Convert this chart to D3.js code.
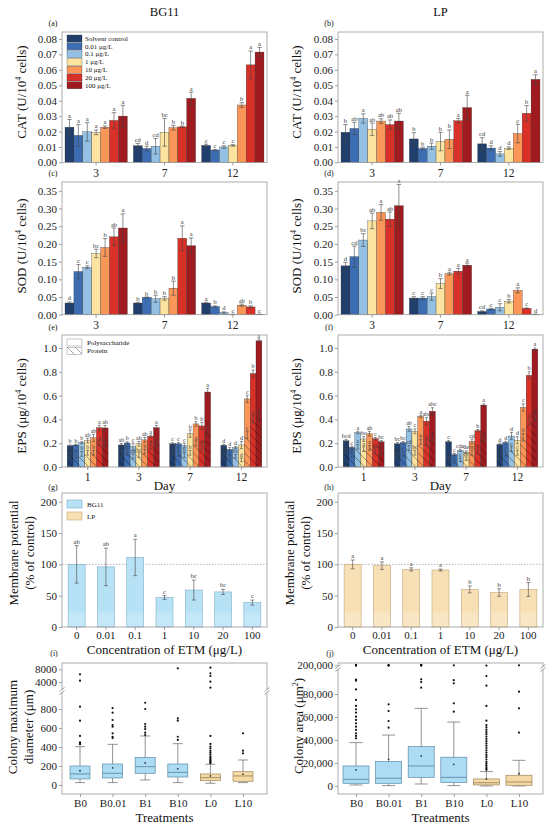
<!DOCTYPE html>
<html>
<head>
<meta charset="utf-8">
<script src="https://cdn.jsdelivr.net/npm/d3@7"></script>
<style>
  body { margin: 0; background: #fff; }
  svg { display: block; }
</style>
</head>
<body>
<div id="chart"></div>
<script>
const W = 550, H = 828;
const FONT = '"Liberation Serif", "Times New Roman", serif';

// ---- data ----
const concNames = ["Solvent control", "0.01 μg/L", "0.1 μg/L", "1 μg/L", "10 μg/L", "20 μg/L", "100 μg/L"];
const concColors = ["#213f6c", "#3c6db3", "#93c0e3", "#fce4a0", "#f99658", "#d93128", "#a01b1f"];
const daysAD = ["3", "7", "12"];
const daysEF = ["1", "3", "7", "12"];
const concTicks = ["0", "0.01", "0.1", "1", "10", "20", "100"];
const treatments = ["B0", "B0.01", "B1", "B10", "L0", "L10"];

const catBG11 = [
  [0.0228, 0.0175, 0.0198, 0.0195, 0.0228, 0.0272, 0.0300],
  [0.0108, 0.0090, 0.0105, 0.0195, 0.0225, 0.0230, 0.0415],
  [0.0110, 0.0080, 0.0100, 0.0110, 0.0372, 0.0632, 0.0715]];
const catBG11Err = [
  [0.005, 0.007, 0.006, 0.0015, 0.0008, 0.005, 0.007],
  [0.0015, 0.0015, 0.005, 0.009, 0.0015, 0.0005, 0.004],
  [0.0008, 0.0003, 0.0008, 0.0005, 0.0015, 0.009, 0.003]];
const catBG11Sig = [["a", "a", "a", "a", "a", "a", "a"], ["cd", "d", "cd", "bc", "b", "b", "a"], ["c", "c", "c", "c", "b", "a", "a"]];

const catLP = [
  [0.0195, 0.0220, 0.0285, 0.0215, 0.0268, 0.0245, 0.0268],
  [0.0152, 0.0090, 0.0105, 0.0135, 0.0150, 0.0270, 0.0355],
  [0.0120, 0.0093, 0.0055, 0.0092, 0.0187, 0.0318, 0.0538]];
const catLPErr = [
  [0.005, 0.004, 0.003, 0.004, 0.0015, 0.003, 0.005],
  [0.004, 0.0008, 0.002, 0.006, 0.006, 0.0015, 0.008],
  [0.004, 0.0015, 0.0015, 0.0008, 0.006, 0.005, 0.003]];
const catLPSig = [["b", "ab", "a", "ab", "ab", "ab", "ab"], ["b", "b", "b", "b", "b", "a", "a"], ["cd", "d", "d", "d", "c", "b", "a"]];

const sodBG11 = [
  [0.033, 0.122, 0.134, 0.173, 0.190, 0.220, 0.245],
  [0.033, 0.049, 0.045, 0.046, 0.075, 0.216, 0.195],
  [0.033, 0.023, 0.006, 0.001, 0.027, 0.022, 0.001]];
const sodBG11Err = [
  [0.003, 0.02, 0.004, 0.012, 0.025, 0.025, 0.04],
  [0.002, 0.001, 0.01, 0.005, 0.02, 0.035, 0.022],
  [0.002, 0.002, 0.002, 0.0005, 0.003, 0.003, 0.0005]];
const sodBG11Sig = [["d", "c", "c", "bc", "b", "ab", "a"], ["b", "b", "b", "b", "b", "a", "a"], ["a", "b", "d", "c", "ab", "b", "c"]];

const sodLP = [
  [0.138, 0.164, 0.211, 0.265, 0.289, 0.270, 0.308],
  [0.047, 0.047, 0.051, 0.088, 0.116, 0.123, 0.140],
  [0.009, 0.016, 0.021, 0.038, 0.069, 0.018, 0.001]];
const sodLPErr = [
  [0.01, 0.03, 0.018, 0.022, 0.022, 0.02, 0.06],
  [0.004, 0.004, 0.01, 0.014, 0.004, 0.008, 0.006],
  [0.002, 0.002, 0.01, 0.005, 0.007, 0.001, 0.0005]];
const sodLPSig = [["d", "cd", "bc", "ab", "a", "ab", "a"], ["c", "c", "c", "b", "a", "a", "a"], ["cd", "c", "c", "b", "a", "c", "d"]];

const epsBG11 = [
  [0.178, 0.185, 0.205, 0.222, 0.245, 0.330, 0.328],
  [0.185, 0.202, 0.170, 0.195, 0.228, 0.258, 0.330],
  [0.195, 0.195, 0.180, 0.280, 0.362, 0.345, 0.630],
  [0.182, 0.148, 0.163, 0.185, 0.572, 0.785, 1.060]];
const epsBG11Err = [
  [0.008, 0.006, 0.008, 0.02, 0.03, 0.02, 0.02],
  [0.012, 0.01, 0.03, 0.02, 0.02, 0.01, 0.02],
  [0.008, 0.01, 0.02, 0.03, 0.02, 0.03, 0.03],
  [0.008, 0.015, 0.01, 0.03, 0.03, 0.03, 0.015]];
const epsBG11Sig = [["b", "b", "b", "ab", "ab", "a", "ab"], ["ab", "b", "c", "ab", "ab", "a", "a"], ["c", "c", "c", "b", "b", "b", "a"], ["d", "d", "d", "d", "c", "b", "a"]];
const protBG11 = [
  [0.10, 0.09, 0.11, 0.12, 0.12, 0.20, 0.19],
  [0.11, 0.12, 0.09, 0.10, 0.13, 0.17, 0.19],
  [0.12, 0.11, 0.10, 0.12, 0.20, 0.16, 0.31],
  [0.10, 0.07, 0.09, 0.06, 0.27, 0.40, 0.42]];
const protBG11Err = [
  [0.02, 0.015, 0.02, 0.02, 0.02, 0.02, 0.02],
  [0.02, 0.02, 0.02, 0.02, 0.02, 0.02, 0.02],
  [0.02, 0.02, 0.02, 0.02, 0.02, 0.02, 0.03],
  [0.015, 0.015, 0.015, 0.015, 0.03, 0.03, 0.03]];
const protBG11Sig = [["ab", "b", "b", "b", "b", "a", "a"], ["b", "bc", "cd", "bc", "b", "a", "a"], ["b", "b", "b", "b", "a", "ab", "a"], ["cd", "d", "bc", "d", "c", "b", "a"]];

const epsLP = [
  [0.220, 0.165, 0.290, 0.235, 0.280, 0.238, 0.212],
  [0.195, 0.205, 0.320, 0.300, 0.425, 0.385, 0.468],
  [0.212, 0.105, 0.140, 0.125, 0.215, 0.305, 0.520],
  [0.190, 0.205, 0.260, 0.225, 0.500, 0.770, 0.990]];
const epsLPErr = [
  [0.01, 0.01, 0.01, 0.02, 0.02, 0.01, 0.01],
  [0.01, 0.01, 0.02, 0.02, 0.01, 0.03, 0.03],
  [0.01, 0.01, 0.01, 0.01, 0.02, 0.01, 0.01],
  [0.01, 0.01, 0.03, 0.03, 0.03, 0.03, 0.01]];
const epsLPSig = [["bcd", "c", "a", "bc", "ab", "c", "bc"], ["bc", "bc", "ab", "c", "a", "abc", "abc"], ["c", "c", "cde", "de", "cd", "b", "a"], ["d", "d", "d", "d", "c", "b", "a"]];
const protLP = [
  [0.14, 0.10, 0.17, 0.15, 0.16, 0.13, 0.12],
  [0.10, 0.11, 0.16, 0.12, 0.21, 0.20, 0.24],
  [0.07, 0.05, 0.06, 0.07, 0.12, 0.13, 0.24],
  [0.10, 0.11, 0.15, 0.12, 0.25, 0.38, 0.42]];
const protLPErr = [
  [0.02, 0.02, 0.02, 0.02, 0.02, 0.02, 0.02],
  [0.02, 0.02, 0.02, 0.02, 0.02, 0.02, 0.02],
  [0.015, 0.015, 0.015, 0.015, 0.02, 0.02, 0.02],
  [0.02, 0.02, 0.02, 0.02, 0.03, 0.03, 0.03]];
const protLPSig = [["a", "b", "a", "a", "a", "ab", "b"], ["bc", "c", "cd", "bc", "b", "b", "a"], ["c", "c", "c", "bc", "bc", "b", "a"], ["c", "c", "c", "c", "b", "a", "a"]];

const memBG11 = [100, 96, 111, 47, 59, 56, 39];
const memBG11Err = [30, 30, 29, 3, 16, 4, 4];
const memBG11Sig = ["ab", "ab", "a", "c", "bc", "bc", "c"];
const memLP = [100, 98, 92, 91, 60, 55, 60];
const memLPErr = [7, 6, 2.5, 1.5, 5.5, 6, 11];
const memLPSig = ["a", "a", "a", "a", "b", "b", "b"];

// box stats: [lower whisker, q1, median, q3, upper whisker, mean]
const diamStats = [
  [25, 63, 116, 200, 403, 150],
  [25, 74, 123, 221, 428, 180],
  [53, 123, 193, 288, 516, 232],
  [25, 84, 133, 221, 435, 170],
  [18, 45, 77, 116, 218, 95],
  [25, 39, 95, 140, 263, 115]];
const diamOutliers = [
  [430, 440, 450, 516, 677, 824, 4430, 6440],
  [494, 508, 544, 614, 631, 684, 761, 810],
  [526, 551, 589, 614, 642, 800, 866],
  [474, 508, 677, 702, 8330],
  [230, 240, 250, 260, 270, 285, 300, 320, 340, 360, 385, 405, 432, 516, 2230, 4110, 5910, 6760, 8530],
  [333, 361, 544]];
const areaStats = [
  [870, 2300, 5800, 17400, 37700, 14000],
  [300, 2300, 6700, 21200, 44300, 23200],
  [1700, 7500, 17400, 34200, 67500, 26000],
  [300, 3000, 7500, 25000, 55600, 18800],
  [0, 870, 2800, 6100, 12500, 6000],
  [0, 600, 3400, 9300, 22300, 10700]];
const areaOutliers = [
  [41400, 43500, 45800, 48700, 51600, 54500, 57400, 60300, 63800, 66700, 69600, 74800, 84000, 91600, 92500, 199500, 200000, 200500, 201000],
  [50700, 56500, 65200, 71000, 199500, 200000, 200500],
  [85500, 90400, 92800, 199500, 200000, 200500, 201000],
  [64600, 71900, 89300, 92000, 200000],
  [14000, 15000, 16500, 18000, 19500, 21000, 23000, 25000, 27000, 29000, 31000, 33000, 35000, 37000, 39000, 41000, 43000, 45000, 47000, 49000, 51000, 53000, 56800, 69600, 87200, 95600, 199500],
  [46400, 67500, 82000, 200000]];

// ---- layout ----
const colL = { x0: 62, x1: 267 }, colR = { x0: 338, x1: 543 };
const rowA = { top: 32, bottom: 162.4 }, rowC = { top: 182, bottom: 314.7 };
const rowE = { top: 335, bottom: 467 }, rowG = { top: 493, bottom: 627 };
const rowI = { top: 663, bottom: 794 };
const frame = (c, r) => ({ x0: c.x0, x1: c.x1, top: r.top, bottom: r.bottom });

const svg = d3.select("#chart").append("svg")
  .attr("width", W).attr("height", H)
  .attr("viewBox", `0 0 ${W} ${H}`)
  .attr("font-family", FONT);
const defs = svg.append("defs");

// hatch for protein
const hatch = defs.append("pattern").attr("id", "hatch")
  .attr("width", 8).attr("height", 8).attr("patternUnits", "userSpaceOnUse");
hatch.append("path").attr("d", "M0,0 L8,8 M-1,7 L1,9 M7,-1 L9,1")
  .attr("stroke", "rgba(0,0,0,0.6)").attr("stroke-width", 0.6);

function styleAxis(g, size) {
  g.attr("font-family", FONT);
  g.select(".domain").remove();
  g.selectAll(".tick line").attr("stroke", "#777").attr("stroke-width", 0.7);
  g.selectAll(".tick text").attr("font-size", size || 11).attr("fill", "#222");
}

function drawFrame(f) {
  svg.append("rect")
    .attr("x", f.x0).attr("y", f.top)
    .attr("width", f.x1 - f.x0).attr("height", f.bottom - f.top)
    .attr("fill", "none").attr("stroke", "#9a9a9a").attr("stroke-width", 0.8);
}

// rotated y title, parts = [[text, isSup], ...]
function yTitle(x, yc, parts, size) {
  const t = svg.append("text")
    .attr("transform", `translate(${x},${yc}) rotate(-90)`)
    .attr("text-anchor", "middle").attr("font-size", size || 13)
    .attr("fill", "#111").attr("dy", "0.35em");
  let up = false;
  parts.forEach(([s, sup]) => {
    const ts = t.append("tspan").text(s);
    if (sup && !up) { ts.attr("font-size", 8).attr("dy", -5); up = true; }
    else if (!sup && up) { ts.attr("dy", 5); up = false; }
  });
}

function text(x, y, s, size, anchor) {
  return svg.append("text").attr("x", x).attr("y", y)
    .attr("font-size", size).attr("text-anchor", anchor || "start")
    .attr("fill", "#111").text(s);
}

function errBar(g, cx, y, v, e, capW) {
  g.append("line").attr("x1", cx).attr("x2", cx).attr("y1", y(Math.max(v - e, 0))).attr("y2", y(v + e))
    .attr("stroke", "#444").attr("stroke-width", 0.6);
  [v + e, Math.max(v - e, 0)].forEach(t => g.append("line")
    .attr("x1", cx - capW / 2).attr("x2", cx + capW / 2).attr("y1", y(t)).attr("y2", y(t))
    .attr("stroke", "#444").attr("stroke-width", 0.6));
}

function sigText(g, cx, yy, s, size) {
  g.append("text").attr("x", cx).attr("y", yy).attr("text-anchor", "middle")
    .attr("font-size", size || 6.5).attr("fill", "#333").text(s);
}

// grouped bars (a-f)
function barPanel(f, cats, vals, errs, sigs, yMax, ticks, fmt, padOuter, prot) {
  const x = d3.scaleBand().domain(cats).range([f.x0, f.x1]);
  const xi = d3.scaleBand().domain(d3.range(7)).range([0, x.bandwidth()]).paddingOuter(padOuter);
  const y = d3.scaleLinear().domain([0, yMax]).range([f.bottom, f.top]);
  const bw = xi.bandwidth();
  const fs = prot ? 5.3 : 6.5;
  cats.forEach((c, di) => {
    const g = svg.append("g").attr("transform", `translate(${x(c)},0)`);
    g.selectAll("rect.bar").data(vals[di]).join("rect").attr("class", "bar")
      .attr("x", (d, k) => xi(k)).attr("width", bw)
      .attr("y", d => y(d)).attr("height", d => y(0) - y(d))
      .attr("fill", (d, k) => concColors[k])
      .attr("stroke", "#2a2a2a").attr("stroke-width", 0.3);
    if (prot) {
      g.selectAll("rect.prot").data(prot.vals[di]).join("rect").attr("class", "prot")
        .attr("x", (d, k) => xi(k)).attr("width", bw)
        .attr("y", d => y(d)).attr("height", d => y(0) - y(d))
        .attr("fill", "url(#hatch)");
      prot.vals[di].forEach((v, k) => {
        const cx = xi(k) + bw / 2, e = prot.errs[di][k];
        errBar(g, cx, y, v, e, bw * 0.5);
        sigText(g, cx, y(v + e) - 1.2, prot.sigs[di][k], fs);
      });
    }
    vals[di].forEach((v, k) => {
      const cx = xi(k) + bw / 2, e = errs[di][k];
      errBar(g, cx, y, v, e, bw * 0.5);
      sigText(g, cx, y(v + e) - 1.5, sigs[di][k], prot ? 6 : 6.5);
    });
  });
  const gy = svg.append("g").attr("transform", `translate(${f.x0},0)`)
    .call(d3.axisLeft(y).tickValues(ticks).tickFormat(d3.format(fmt)).tickSize(3).tickPadding(2));
  styleAxis(gy);
  const gx = svg.append("g").attr("transform", `translate(0,${f.bottom})`)
    .call(d3.axisBottom(x).tickSize(3).tickPadding(3));
  styleAxis(gx, 11.5);
  drawFrame(f);
}

// membrane potential (g, h)
function memPanel(f, vals, errs, sigs, fill, light, stroke, id) {
  const x = d3.scaleBand().domain(concTicks).range([f.x0, f.x1]).paddingInner(0.42).paddingOuter(0.21);
  const y = d3.scaleLinear().domain([0, 214]).range([f.bottom, f.top]);
  const grad = defs.append("linearGradient").attr("id", id).attr("gradientUnits", "userSpaceOnUse")
    .attr("x1", 0).attr("x2", 0).attr("y1", f.top).attr("y2", f.bottom);
  const cut = (y(25) - f.top) / (f.bottom - f.top);
  [[0, fill], [cut, fill], [cut + 0.02, light], [1, light]].forEach(([o, c]) =>
    grad.append("stop").attr("offset", o).attr("stop-color", c));
  svg.append("line").attr("x1", f.x0).attr("x2", f.x1).attr("y1", y(100)).attr("y2", y(100))
    .attr("stroke", "#999").attr("stroke-width", 0.7).attr("stroke-dasharray", "1.5,1.5");
  const g = svg.append("g");
  g.selectAll("rect").data(vals).join("rect")
    .attr("x", (d, i) => x(concTicks[i])).attr("width", x.bandwidth())
    .attr("y", d => y(d)).attr("height", d => y(0) - y(d))
    .attr("fill", `url(#${id})`).attr("stroke", stroke).attr("stroke-width", 0.6);
  vals.forEach((v, i) => {
    const cx = x(concTicks[i]) + x.bandwidth() / 2;
    errBar(g, cx, y, v, errs[i], 4);
    sigText(g, cx, y(v + errs[i]) - 2, sigs[i]);
  });
  const gy = svg.append("g").attr("transform", `translate(${f.x0},0)`)
    .call(d3.axisLeft(y).tickValues([0, 50, 100, 150, 200]).tickSize(3).tickPadding(2));
  styleAxis(gy);
  const gx = svg.append("g").attr("transform", `translate(0,${f.bottom})`)
    .call(d3.axisBottom(x).tickSize(3).tickPadding(1));
  styleAxis(gx);
  drawFrame(f);
}

// box plots (i, j)
function boxPanel(f, stats, outs, lowS, upS, lowMax, ticksLo, ticksUp, fmt, boxW, breakY) {
  const x = d3.scalePoint().domain(treatments).range([f.x0 + 18, f.x1 - 24]);
  const y = v => (v <= lowMax ? lowS(v) : upS(v));
  const g = svg.append("g");
  stats.forEach((s, i) => {
    const cx = x(treatments[i]);
    const isB = treatments[i][0] === "B";
    const fill = isB ? "#abdcf3" : "#f5daa6", st = isB ? "#5d8ca8" : "#9c875f";
    const [lo, q1, med, q3, hi, mean] = s;
    g.append("line").attr("x1", cx).attr("x2", cx).attr("y1", y(lo)).attr("y2", y(hi))
      .attr("stroke", "#666").attr("stroke-width", 0.7);
    [lo, hi].forEach(t => g.append("line").attr("x1", cx - boxW * 0.25).attr("x2", cx + boxW * 0.25)
      .attr("y1", y(t)).attr("y2", y(t)).attr("stroke", "#666").attr("stroke-width", 0.7));
    g.append("rect").attr("x", cx - boxW / 2).attr("width", boxW)
      .attr("y", y(q3)).attr("height", y(q1) - y(q3))
      .attr("fill", fill).attr("stroke", st).attr("stroke-width", 0.7);
    g.append("line").attr("x1", cx - boxW / 2).attr("x2", cx + boxW / 2).attr("y1", y(med)).attr("y2", y(med))
      .attr("stroke", st).attr("stroke-width", 0.9);
    g.append("circle").attr("cx", cx).attr("cy", y(mean)).attr("r", 0.9).attr("fill", "#333");
    g.selectAll(null).data(outs[i]).join("circle")
      .attr("cx", cx).attr("cy", d => y(d)).attr("r", 1.1).attr("fill", "#111");
  });
  [[lowS, ticksLo], [upS, ticksUp]].forEach(([sc, tv]) => {
    const gy = svg.append("g").attr("transform", `translate(${f.x0},0)`)
      .call(d3.axisLeft(sc).tickValues(tv).tickFormat(d3.format(fmt)).tickSize(3).tickPadding(2));
    styleAxis(gy);
  });
  const gx = svg.append("g").attr("transform", `translate(0,${f.bottom})`)
    .call(d3.axisBottom(x).tickSize(3).tickPadding(2));
  styleAxis(gx);
  drawFrame(f);
  // axis break marks
  [f.x0, f.x1].forEach(xx => {
    svg.append("rect").attr("x", xx - 2).attr("y", breakY - 1.5).attr("width", 4).attr("height", 3).attr("fill", "#fff");
    [-1.5, 1.5].forEach(o => svg.append("line")
      .attr("x1", xx - 2.5).attr("x2", xx + 2.5).attr("y1", breakY + o + 2).attr("y2", breakY + o - 2)
      .attr("stroke", "#777").attr("stroke-width", 0.7));
  });
}

// ---- panels ----
text(164.5, 16, "BG11", 12.5, "middle");
text(440.5, 16, "LP", 12.5, "middle");

barPanel(frame(colL, rowA), daysAD, catBG11, catBG11Err, catBG11Sig, 0.0845, d3.range(0, 0.081, 0.01), ".2f", 0.34);
barPanel(frame(colR, rowA), daysAD, catLP, catLPErr, catLPSig, 0.0845, d3.range(0, 0.081, 0.01), ".2f", 0.34);
barPanel(frame(colL, rowC), daysAD, sodBG11, sodBG11Err, sodBG11Sig, 0.375, d3.range(0, 0.36, 0.05), ".2f", 0.34);
barPanel(frame(colR, rowC), daysAD, sodLP, sodLPErr, sodLPSig, 0.375, d3.range(0, 0.36, 0.05), ".2f", 0.34);
barPanel(frame(colL, rowE), daysEF, epsBG11, epsBG11Err, epsBG11Sig, 1.109, d3.range(0, 1.01, 0.2), ".1f", 0.88,
  { vals: protBG11, errs: protBG11Err, sigs: protBG11Sig });
barPanel(frame(colR, rowE), daysEF, epsLP, epsLPErr, epsLPSig, 1.109, d3.range(0, 1.01, 0.2), ".1f", 0.88,
  { vals: protLP, errs: protLPErr, sigs: protLPSig });
memPanel(frame(colL, rowG), memBG11, memBG11Err, memBG11Sig, "#b7e2f6", "#c4e8f8", "#7fb0c9", "gradB");
memPanel(frame(colR, rowG), memLP, memLPErr, memLPSig, "#f7e0b5", "#f9e6c4", "#c6a679", "gradL");

boxPanel(frame(colL, rowI), diamStats, diamOutliers,
  d3.scaleLinear().domain([-95, 1000]).range([794, 690]),
  d3.scaleLinear().domain([1500, 10000]).range([690, 663]),
  1000, [0, 200, 400, 600, 800], [4000, 8000], "d", 20, 691);
boxPanel(frame(colR, rowI), areaStats, areaOutliers,
  d3.scaleLinear().domain([-7000, 100000]).range([794, 671]),
  d3.scaleLinear().domain([190000, 205000]).range([670, 663]),
  100000, [0, 20000, 40000, 60000, 80000], [200000], ",", 26, 668);

// legends
const legA = svg.append("g");
concNames.forEach((n, i) => {
  legA.append("rect").attr("x", 67).attr("y", 35 + i * 7.8).attr("width", 15).attr("height", 7)
    .attr("fill", concColors[i]).attr("stroke", "#333").attr("stroke-width", 0.3);
  legA.append("text").attr("x", 85).attr("y", 35 + i * 7.8 + 5.8).attr("font-size", 7).attr("fill", "#111").text(n);
});
[["Polysaccharide", "#fff"], ["Protein", "url(#hatch)"]].forEach(([n, f], i) => {
  svg.append("rect").attr("x", 67).attr("y", 339 + i * 8.5).attr("width", 15).attr("height", 7)
    .attr("fill", f).attr("stroke", "#777").attr("stroke-width", 0.4);
  text(87, 339 + i * 8.5 + 5.8, n, 7);
});
[["BG11", "#b7e2f6", "#7fb0c9"], ["LP", "#f7e0b5", "#c6a679"]].forEach(([n, f, s], i) => {
  svg.append("rect").attr("x", 67).attr("y", 500 + i * 12).attr("width", 15).attr("height", 8)
    .attr("fill", f).attr("stroke", s).attr("stroke-width", 0.6);
  text(87, 500 + i * 12 + 6.5, n, 7);
});

// panel letters
[["(a)", 53, 26], ["(b)", 329, 26], ["(c)", 53, 176], ["(d)", 329, 176], ["(e)", 53, 330], ["(f)", 329, 330],
 ["(g)", 53, 490], ["(h)", 329, 490], ["(i)", 54, 656], ["(j)", 330, 656]]
  .forEach(([s, x, y]) => text(x, y, s, 8, "middle"));

// axis titles
yTitle(21, 92, [["CAT (U/10"], ["4", true], [" cells)"]]);
yTitle(296, 92, [["CAT (U/10"], ["4", true], [" cells)"]]);
yTitle(21, 246, [["SOD (U/10"], ["4", true], [" cells)"]]);
yTitle(296, 246, [["SOD (U/10"], ["4", true], [" cells)"]]);
yTitle(21, 406, [["EPS (μg/10"], ["4", true], [" cells)"]]);
yTitle(296, 406, [["EPS (μg/10"], ["4", true], [" cells)"]]);
yTitle(13, 553, [["Membrane potential"]]);
yTitle(29, 553, [["(% of control)"]]);
yTitle(289, 553, [["Membrane potential"]]);
yTitle(305, 553, [["(% of control)"]]);
yTitle(12, 727, [["Colony maximum"]]);
yTitle(28, 727, [["diameter (μm)"]]);
yTitle(298, 726, [["Colony area (μm"], ["2", true], [")"]]);

text(164.5, 490, "Day", 13, "middle");
text(440.5, 490, "Day", 13, "middle");
text(164.5, 653.5, "Concentration of ETM (μg/L)", 13, "middle");
text(440.5, 653.5, "Concentration of ETM (μg/L)", 13, "middle");
text(164.5, 822, "Treatments", 13, "middle");
text(440.5, 822, "Treatments", 13, "middle");
</script>
</body>
</html>
